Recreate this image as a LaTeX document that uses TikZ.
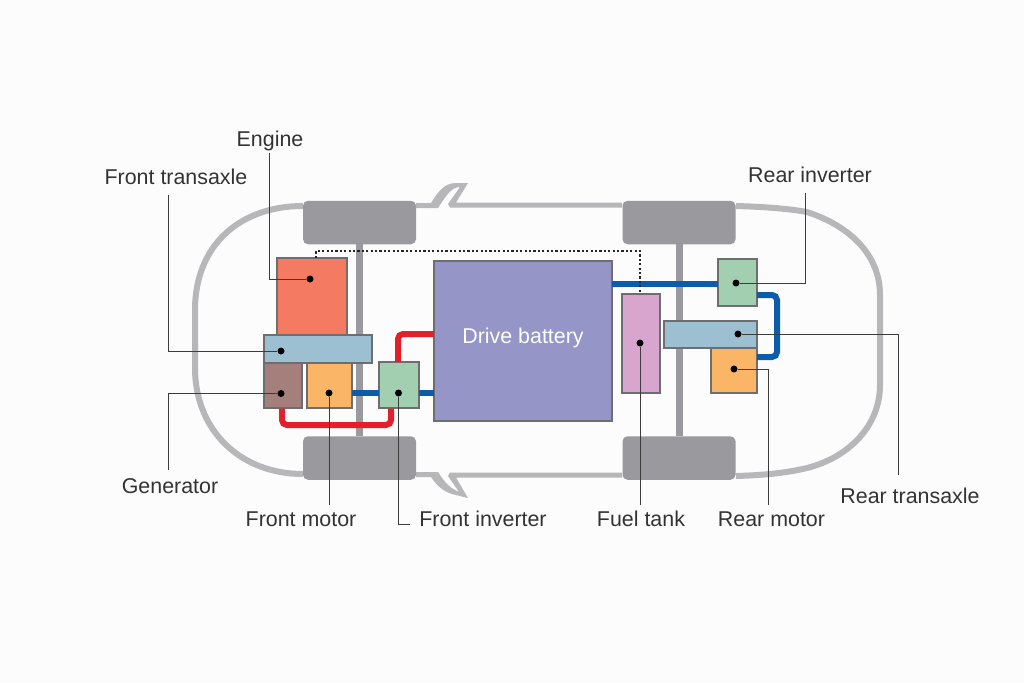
\documentclass[tikz,border=0pt]{standalone}
\usepackage{fontspec}
\setmainfont{Liberation Sans}
\usepackage{xcolor}
\usetikzlibrary{positioning}
\definecolor{bodygray}{HTML}{B7B7B9}
\definecolor{wheelgray}{HTML}{9A9A9E}
\definecolor{edgegray}{HTML}{6E6E70}
\definecolor{leadgray}{HTML}{3C3C3C}
\definecolor{enginecol}{HTML}{F47B62}
\definecolor{transcol}{HTML}{9DBFD2}
\definecolor{gencol}{HTML}{A47F7C}
\definecolor{motorcol}{HTML}{FBB566}
\definecolor{invcol}{HTML}{A2CFB0}
\definecolor{battcol}{HTML}{9595C8}
\definecolor{tankcol}{HTML}{D8A5CE}
\definecolor{hvred}{HTML}{E3202A}
\definecolor{hvblue}{HTML}{0B5CAB}
\tikzset{
    part/.style={draw=edgegray, line width=1.1pt, minimum width=#1, inner sep=0pt, outer sep=0pt},
    wheel/.style={fill=wheelgray, rounded corners=5pt, minimum width=113pt, minimum height=43.5pt, inner sep=0pt, outer sep=0pt},
    pin/.style={circle, fill=black, minimum size=7pt, inner sep=0pt},
    tag/.style={font=\fontsize{21.4}{25}\selectfont, text=black!80, inner sep=0pt, text height=15.5pt, text depth=4.5pt},
    lead/.style={draw=leadgray, line width=1pt},
    hvline/.style={line width=6pt, rounded corners=5pt}
}
\begin{document}
\begin{tikzpicture}[x=1pt, y=-1pt]
    \useasboundingbox (0,0) rectangle (1024,683);
    \fill[white!99!black] (0,0) rectangle (1024,683);

    % Car body
    \draw[bodygray, line width=6pt] (303,206) .. controls (240,206) and (195,245) .. (195,310)
        -- (195,368) .. controls (195,430) and (240,474) .. (303,474);
    \draw[bodygray, line width=6pt] (736,206) .. controls (770,207) and (790,209) .. (807,212)
        .. controls (850,226) and (880,255) .. (880,295) -- (880,385)
        .. controls (880,425) and (850,457) .. (807,468)
        .. controls (790,472) and (770,475) .. (736,476);
    \fill[bodygray] (416,203) -- (431,203) .. controls (437,194) and (443,183) .. (456,183) -- (468,183)
        -- (456,202.5) -- (622,202.5) -- (622,207.5) -- (450,207.5) -- (448,204) -- (460,187)
        .. controls (452,187) and (447,194) .. (438,208) -- (416,208) -- cycle;
    \fill[bodygray] (416,477) -- (431,477) .. controls (437,486) and (443,491) .. (452,494) -- (468,498)
        -- (456,477.5) -- (622,477.5) -- (622,472.5) -- (450,472.5) -- (448,476) -- (459,492)
        .. controls (450,488) and (446,484) .. (438,472) -- (416,472) -- cycle;

    % Axles
    \node[wheel] (wheelfl) at (359.5,222.5) {};
    \node[wheel] (wheelfr) at (359.5,458) {};
    \node[wheel] (wheelrl) at (679,222.5) {};
    \node[wheel] (wheelrr) at (679,458) {};
    \draw[wheelgray, line width=7pt] (wheelfl) -- (wheelfr);
    \draw[wheelgray, line width=7pt] (wheelrl) -- (wheelrr);

    % Parts
    \node[part=70pt, minimum height=77pt, fill=enginecol] (engine) at (312,296.5) {};
    \node[part=38pt, minimum height=45pt, fill=gencol] (gen) at (283,385.5) {};
    \node[part=45pt, minimum height=45pt, fill=motorcol] (fmotor) at (329.5,385.5) {};
    \node[part=108pt, minimum height=28pt, fill=transcol] (ftrans) at (318,349) {};
    \node[part=40pt, minimum height=46pt, fill=invcol] (finv) at (399,385) {};
    \node[part=178pt, minimum height=160pt, fill=battcol] (batt) at (523,341) {};
    \node[part=38pt, minimum height=99pt, fill=tankcol] (tank) at (641,343.5) {};
    \node[part=39pt, minimum height=47pt, fill=invcol] (rinv) at (737.5,282.5) {};
    \node[part=46pt, minimum height=45pt, fill=motorcol] (rmotor) at (734,370.5) {};
    \node[part=93pt, minimum height=27pt, fill=transcol] (rtrans) at (710.5,334.5) {};
    \node[tag, text=white] (battlabel) at (523,338) {Drive battery};

    % Cables
    \draw[hvline, hvblue] (fmotor.east |- 0,393) -- (finv.west |- 0,393);
    \draw[hvline, hvblue] (finv.east |- 0,393) -- (batt.west |- 0,393);
    \draw[hvline, hvblue] (batt.east |- 0,284) -- (rinv.west |- 0,284);
    \draw[hvline, hvblue] (rinv.east |- 0,295) -- (777,295) -- (777,357) -- (rmotor.east |- 0,357);
    \draw[hvline, hvred] (finv.north -| 398,0) -- (398,334) -- (batt.west |- 0,334);
    \draw[hvline, hvred] (282,408.5) -- (282,425) -- (391,425) -- (391,408.5);
    \draw[line width=2pt, dash pattern=on 2.2pt off 2.2pt, black!85] (316,258) -- (316,251) -- (640,251) -- (640,294);

    % Labels
    \node[tag] (lengine) at (270,141) {Engine};
    \node[tag] (lftrans) at (176,179) {Front transaxle};
    \node[tag] (lgen) at (170,488) {Generator};
    \node[tag] (lfmotor) at (301,521) {Front motor};
    \node[tag] (lfinv) at (483,521) {Front inverter};
    \node[tag] (ltank) at (641,521) {Fuel tank};
    \node[tag] (lrmotor) at (771.5,521) {Rear motor};
    \node[tag] (lrtrans) at (910,497.5) {Rear transaxle};
    \node[tag] (lrinv) at (810,177) {Rear inverter};

    % Pins
    \node[pin] (pengine) at (310,279) {};
    \node[pin] (pftrans) at (281,351) {};
    \node[pin] (pgen) at (281,393.5) {};
    \node[pin] (pfmotor) at (329,393) {};
    \node[pin] (pfinv) at (398.5,393) {};
    \node[pin] (ptank) at (640,343) {};
    \node[pin] (prinv) at (736,283) {};
    \node[pin] (prtrans) at (738,334) {};
    \node[pin] (prmotor) at (734,369) {};

    % Leaders
    \coordinate (cengine) at (269,153);
    \coordinate (cftrans) at (168,195);
    \coordinate (cgen) at (168,470);
    \coordinate (cfmotor) at (329,505);
    \coordinate (cfinv) at (410,524);
    \coordinate (ctank) at (640,505);
    \coordinate (crinv) at (805,193);
    \coordinate (crtrans) at (898,475);
    \coordinate (crmotor) at (768,505);
    \draw[lead] (pengine) -| (cengine);
    \draw[lead] (pftrans) -| (cftrans);
    \draw[lead] (pgen) -| (cgen);
    \draw[lead] (pfmotor) -- (cfmotor);
    \draw[lead] (pfinv) |- (cfinv);
    \draw[lead] (ptank) -- (ctank);
    \draw[lead] (prinv) -| (crinv);
    \draw[lead] (prtrans) -| (crtrans);
    \draw[lead] (prmotor) -| (crmotor);
\end{tikzpicture}
\end{document}
